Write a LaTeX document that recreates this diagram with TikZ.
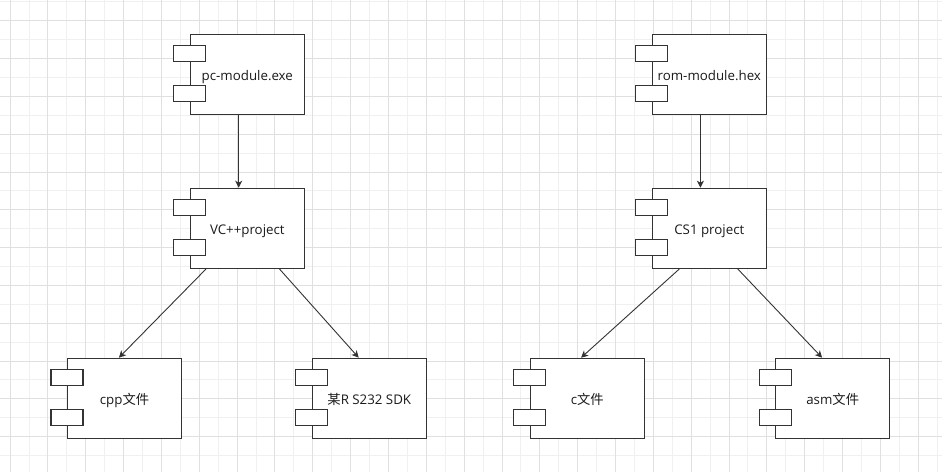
\documentclass[tikz,border=0pt]{standalone}
\usepackage{fontspec}
\setmainfont{Open Sans}
\newfontfamily\cjk{Noto Sans CJK SC}
\usetikzlibrary{arrows.meta,calc}
\definecolor{gridd}{HTML}{E0E0E0}
\definecolor{gridl}{HTML}{F0F0F0}
\definecolor{ink}{HTML}{333333}
\definecolor{txt}{HTML}{1A1A1A}
\tikzset{
  comp/.style={draw=ink, line width=1.2pt, fill=white, minimum width=114pt, minimum height=80pt, inner sep=0pt, text=txt, font=\fontsize{13.3}{16}\selectfont, text height=12pt, text depth=0pt},
  port/.style={draw=ink, line width=1.2pt, fill=white, minimum width=32pt, minimum height=16pt, inner sep=0pt},
  arr/.style={draw=ink, line width=0.9pt, -{Stealth[length=7pt,width=7pt,inset=2pt]}}
}
\begin{document}
\begin{tikzpicture}[x=1pt,y=-1pt]
\useasboundingbox (0,0) rectangle (942,472);
\fill[white] (0,0) rectangle (942,472);
% grid
\foreach \k in {1,3,...,49}{\draw[gridl, line width=0.8pt] ({10+18.92*\k},0) -- ({10+18.92*\k},472);}
\foreach \k in {0,2,...,24}{\draw[gridl, line width=0.8pt] (0,{1.8+18.9*\k}) -- (942,{1.8+18.9*\k});}
\foreach \k in {0,2,...,48}{\draw[gridd, line width=0.8pt] ({10+18.92*\k},0) -- ({10+18.92*\k},472);}
\foreach \k in {1,3,...,23}{\draw[gridd, line width=0.8pt] (0,{1.8+18.9*\k}) -- (942,{1.8+18.9*\k});}
% components
\node[comp] (pc)  at (247.3,74.3)  {pc-module.exe};
\node[comp] (vc)  at (247.3,228.3) {VC++project};
\node[comp] (rom) at (709.3,74.3)  {rom-module.hex};
\node[comp] (cs)  at (709.3,228.3) {CS1 project};
\node[comp] (cpp) at (124.5,398.3) {cpp{\cjk 文件}};
\node[comp] (sdk) at (369.3,398.3) {{\cjk 某}R S232 SDK};
\node[comp] (cf)  at (587.3,398.3) {c{\cjk 文件}};
\node[comp] (asm) at (832.7,398.3) {asm{\cjk 文件}};
\foreach \b in {pc,vc,rom,cs,cpp,sdk,cf,asm}{
  \node[port] (\b p1) at ($(\b.north west)+(0,20)$) {};
  \node[port] (\b p2) at ($(\b.north west)+(0,60)$) {};
}
% connectors
\draw[arr] ($(pc.south west)+(49,0)$) -- ($(vc.north west)+(49,0)$);
\draw[arr] ($(rom.south west)+(48.7,0)$) -- ($(cs.north west)+(48.7,0)$);
\draw[arr] ($(vc.south west)+(16.4,0)$) -- ($(cpp.north west)+(52,0)$);
\draw[arr] ($(vc.south west)+(89.7,0)$) -- ($(sdk.north west)+(47,0)$);
\draw[arr] ($(cs.south west)+(27.7,0)$) -- ($(cf.north west)+(51.4,0)$);
\draw[arr] ($(cs.south west)+(86,0)$) -- ($(asm.north west)+(47,0)$);
\end{tikzpicture}
\end{document}
